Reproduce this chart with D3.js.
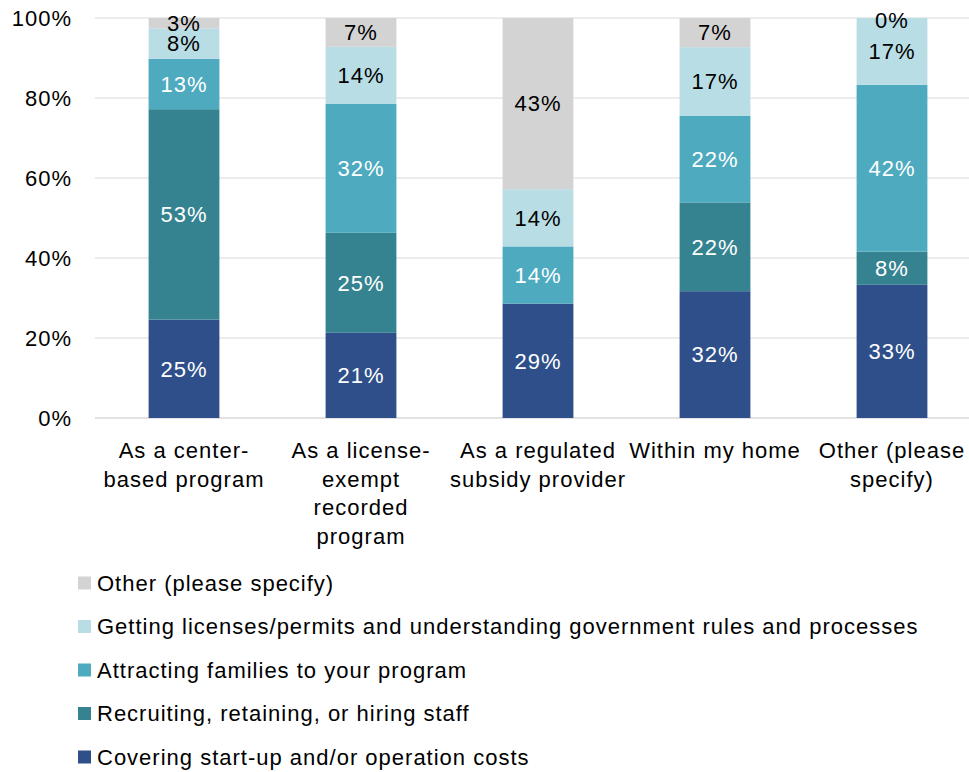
<!DOCTYPE html>
<html>
<head>
<meta charset="utf-8">
<script src="https://cdn.jsdelivr.net/npm/d3@7"></script>
<style>
  html, body { margin: 0; padding: 0; background: #fff; }
  svg text { font-family: "Liberation Sans", Arial, sans-serif; letter-spacing: 1px; }
</style>
</head>
<body>
<svg id="chart" width="969" height="772"></svg>
<script>
// Categories along the x axis (label lines)
const categories = [
  ["As a center-", "based program"],
  ["As a license-", "exempt", "recorded", "program"],
  ["As a regulated", "subsidy provider"],
  ["Within my home"],
  ["Other (please", "specify)"]
];

// Series, bottom to top of each stack
const seriesNames = [
  "Covering start-up and/or operation costs",
  "Recruiting, retaining, or hiring staff",
  "Attracting families to your program",
  "Getting licenses/permits and understanding government rules and processes",
  "Other (please specify)"
];
const seriesColors = ["#2E4F8A", "#358391", "#4DAABF", "#B8DDE5", "#D3D3D3"];
const labelColors  = ["#fff", "#fff", "#fff", "#000", "#000"];

// Shares in percent, one array per series, one value per category
const costs      = [24.6, 21.3, 28.6, 31.7, 33.3];
const staffing   = [52.6, 25.0,  0.0, 22.2,  8.3];
const families   = [12.6, 32.2, 14.3, 21.7, 41.7];
const licensing  = [ 7.6, 14.3, 14.3, 17.1, 16.7];
const otherIssue = [ 2.6,  7.2, 42.8,  7.3,  0.0];
const seriesValues = [costs, staffing, families, licensing, otherIssue];

const yTicks = [0, 20, 40, 60, 80, 100];

const svg = d3.select("#chart");
const FONT = 22;

const x = d3.scaleBand()
  .domain(d3.range(categories.length))
  .range([95.5, 980.5])
  .paddingInner(0.6)
  .paddingOuter(0.3);

const y = d3.scaleLinear().domain([0, 100]).range([418, 18]);

// Gridlines
svg.append("g")
  .selectAll("line")
  .data(yTicks)
  .join("line")
  .attr("x1", 95).attr("x2", 969)
  .attr("y1", d => y(d)).attr("y2", d => y(d))
  .attr("stroke", "#D9D9D9")
  .attr("stroke-width", d => d === 0 ? 1.5 : 1);

// Y axis labels
const yAxis = svg.append("g")
  .attr("transform", "translate(95,0)")
  .call(d3.axisLeft(y).tickValues(yTicks).tickFormat(d => d + "%").tickSize(0).tickPadding(23));
yAxis.select(".domain").remove();
yAxis.selectAll("text")
  .attr("font-size", FONT)
  .attr("fill", "#000")
  .attr("font-family", "Liberation Sans, Arial, sans-serif");

// Stack data
const rows = categories.map((c, i) => {
  const r = { idx: i };
  seriesValues.forEach((s, k) => { r["s" + k] = s[i]; });
  return r;
});
const keys = seriesNames.map((_, k) => "s" + k);
const stacked = d3.stack().keys(keys)(rows);

const layers = svg.append("g")
  .selectAll("g")
  .data(stacked)
  .join("g")
  .attr("fill", (d, k) => seriesColors[k]);

layers.selectAll("rect")
  .data(d => d)
  .join("rect")
  .attr("x", d => x(d.data.idx))
  .attr("width", x.bandwidth())
  .attr("y", d => y(d[1]))
  .attr("height", d => y(d[0]) - y(d[1]));

// Value labels
const labels = svg.append("g")
  .attr("font-size", FONT)
  .attr("text-anchor", "middle");
stacked.forEach((layer, k) => {
  layer.forEach(d => {
    const v = d[1] - d[0];
    const isTop = k === stacked.length - 1;
    if (v <= 0 && !isTop) return;
    labels.append("text")
      .attr("x", x(d.data.idx) + x.bandwidth() / 2)
      .attr("y", v > 0 ? (y(d[0]) + y(d[1])) / 2 : y(d[1]) + 2)
      .attr("dy", "0.35em")
      .attr("fill", labelColors[k])
      .text(Math.round(v) + "%");
  });
});

// Category labels
const cat = svg.append("g")
  .attr("font-size", FONT)
  .attr("text-anchor", "middle")
  .attr("fill", "#000");
categories.forEach((lines, i) => {
  const t = cat.append("text")
    .attr("x", x(i) + x.bandwidth() / 2)
    .attr("y", 458);
  lines.forEach((ln, j) => {
    t.append("tspan")
      .attr("x", x(i) + x.bandwidth() / 2)
      .attr("dy", j === 0 ? 0 : 28.7)
      .text(ln);
  });
});

// Legend (top series first)
const legendOrder = d3.range(seriesNames.length).reverse();
const legend = svg.append("g")
  .selectAll("g")
  .data(legendOrder)
  .join("g")
  .attr("transform", (d, i) => `translate(78, ${583 + i * 43.5})`);
legend.append("rect")
  .attr("x", 0).attr("y", -6.5)
  .attr("width", 13).attr("height", 13)
  .attr("fill", d => seriesColors[d]);
legend.append("text")
  .attr("x", 19)
  .attr("dy", "0.35em")
  .attr("font-size", FONT)
  .attr("fill", "#000")
  .text(d => seriesNames[d]);
</script>
</body>
</html>
